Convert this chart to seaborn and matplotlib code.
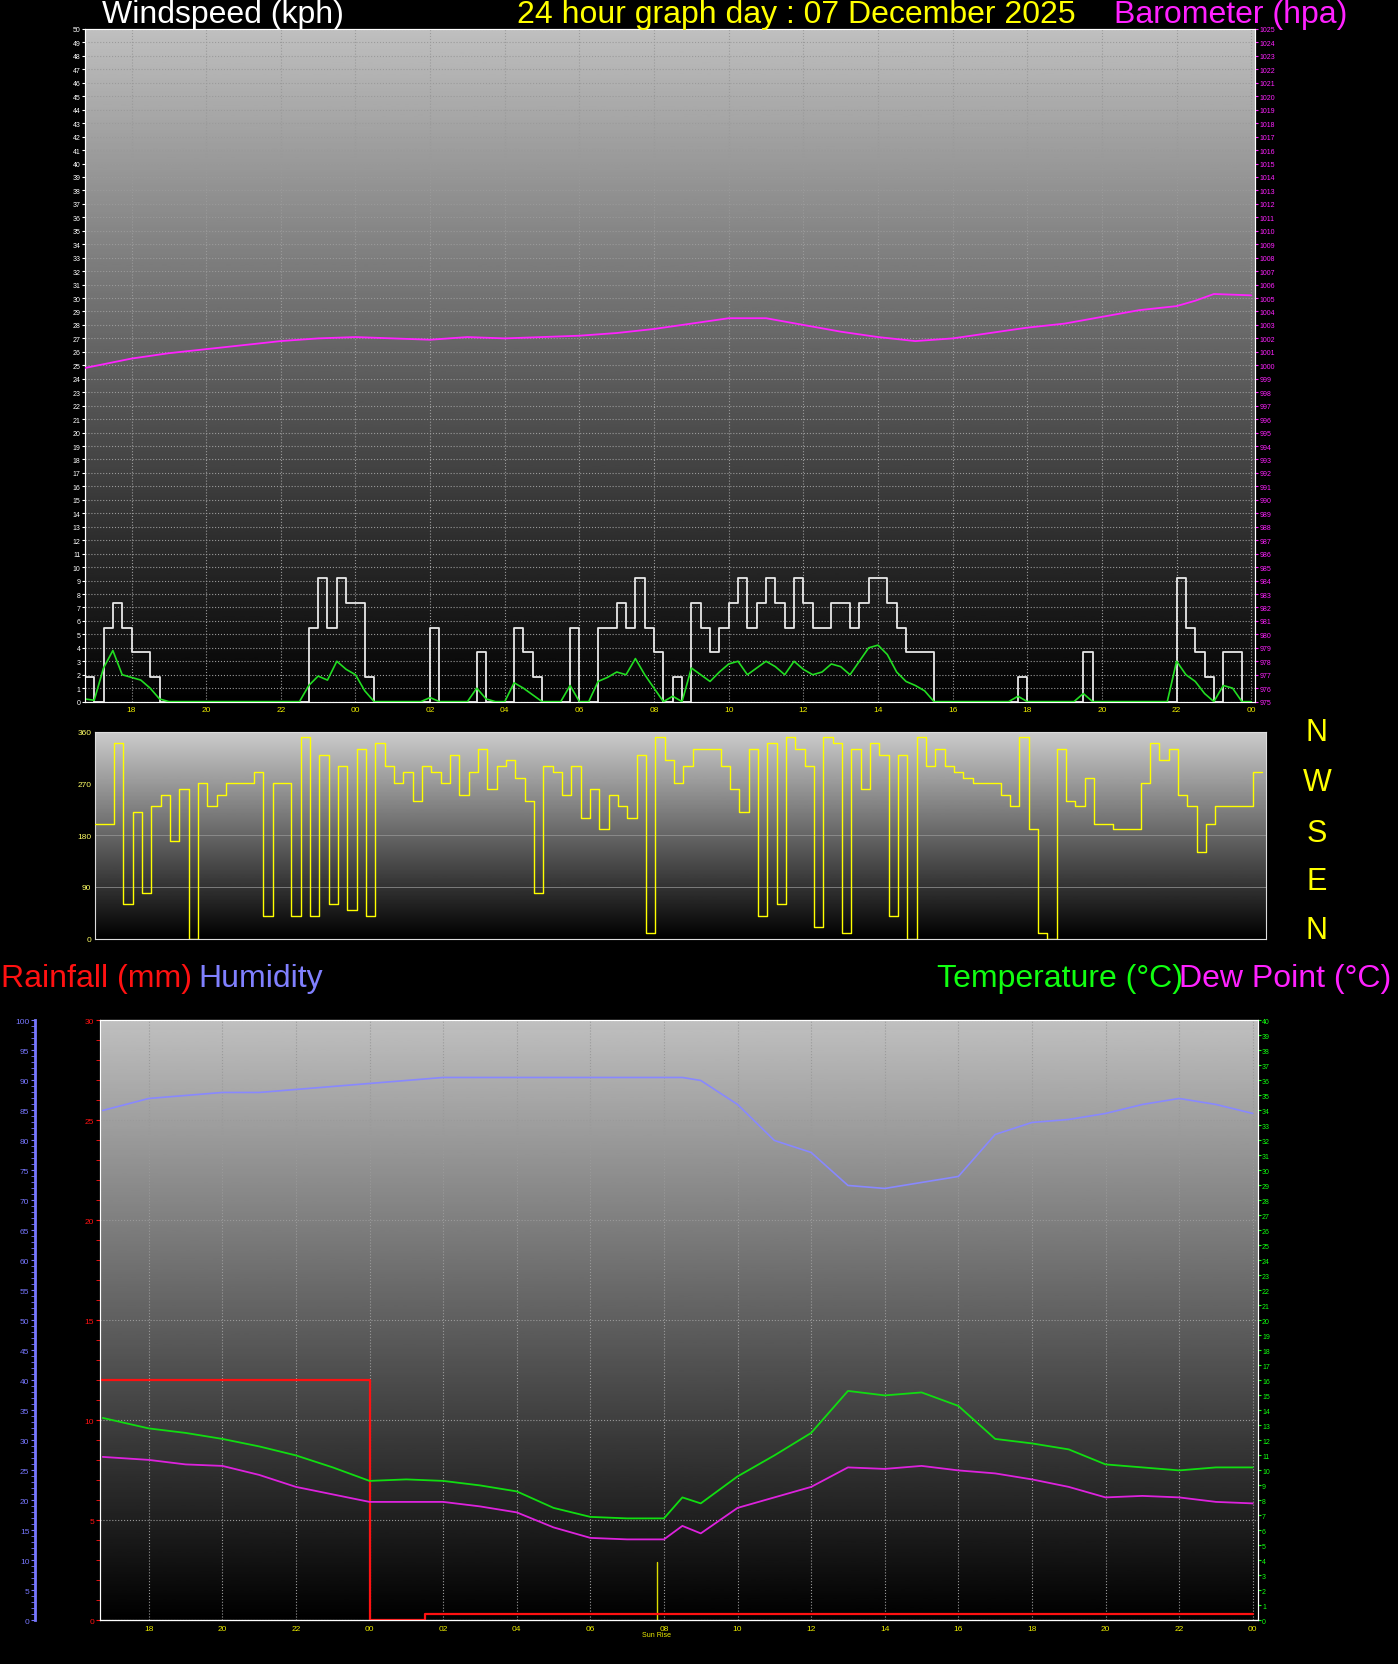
import numpy as np
import pandas as pd
import matplotlib
matplotlib.use('Agg')
import matplotlib.pyplot as plt
import seaborn as sns

sns.set_style('dark')
plt.rcParams['font.family'] = ['Liberation Sans', 'DejaVu Sans']

# time axis in hours (16.75 = 16:45 previous day, 48 = midnight 07 Dec)
hours = [16.75 + 0.25 * i for i in range(126)]

# wind speed (kph), 15 minute samples
gust = [1.8, 0, 5.5, 7.3, 5.5, 3.7, 3.7, 1.8, 0, 0,
        0, 0, 0, 0, 0, 0, 0, 0, 0, 0,
        0, 0, 0, 0, 5.5, 9.2, 5.5, 9.2, 7.3, 7.3,
        1.8, 0, 0, 0, 0, 0, 0, 5.5, 0, 0,
        0, 0, 3.7, 0, 0, 0, 5.5, 3.7, 1.8, 0,
        0, 0, 5.5, 0, 0, 5.5, 5.5, 7.3, 5.5, 9.2,
        5.5, 3.7, 0, 1.8, 0, 7.3, 5.5, 3.7, 5.5, 7.3,
        9.2, 5.5, 7.3, 9.2, 7.3, 5.5, 9.2, 7.3, 5.5, 5.5,
        7.3, 7.3, 5.5, 7.3, 9.2, 9.2, 7.3, 5.5, 3.7, 3.7,
        3.7, 0, 0, 0, 0, 0, 0, 0, 0, 0,
        1.8, 0, 0, 0, 0, 0, 0, 3.7, 0, 0,
        0, 0, 0, 0, 0, 0, 0, 9.2, 5.5, 3.7,
        1.8, 0, 3.7, 3.7, 0, 0]
avg = [0.2, 0.1, 2.5, 3.8, 2.0, 1.8, 1.6, 1.0, 0.2, 0,
       0, 0, 0, 0, 0, 0, 0, 0, 0, 0,
       0, 0, 0, 0, 1.2, 1.9, 1.6, 3.0, 2.4, 2.0,
       0.8, 0, 0, 0, 0, 0, 0, 0.3, 0, 0,
       0, 0, 1.0, 0.2, 0, 0, 1.4, 1.0, 0.5, 0,
       0, 0, 1.2, 0, 0, 1.5, 1.8, 2.2, 2.0, 3.2,
       2.0, 1.0, 0, 0.4, 0, 2.5, 2.0, 1.5, 2.2, 2.8,
       3.0, 2.0, 2.5, 3.0, 2.6, 2.0, 3.0, 2.4, 2.0, 2.2,
       2.8, 2.6, 2.0, 3.0, 4.0, 4.2, 3.5, 2.2, 1.5, 1.2,
       0.8, 0, 0, 0, 0, 0, 0, 0, 0, 0,
       0.4, 0, 0, 0, 0, 0, 0, 0.6, 0, 0,
       0, 0, 0, 0, 0, 0, 0, 3.0, 2.0, 1.5,
       0.6, 0, 1.2, 1.0, 0, 0]

# barometer (hpa), hourly
baro_hours = [16.75, 18, 19, 20, 21, 22, 23, 24, 25, 26, 27, 28, 29, 30, 31,
              32, 33, 34, 35, 36, 37, 38, 39, 40, 41, 42, 43, 44, 45, 46,
              46.5, 47, 48]
baro = [999.8, 1000.5, 1000.9, 1001.2, 1001.5, 1001.8, 1002.0, 1002.1, 1002.0,
        1001.9, 1002.1, 1002.0, 1002.1, 1002.2, 1002.4, 1002.7, 1003.1, 1003.5,
        1003.5, 1003.0, 1002.5, 1002.1, 1001.8, 1002.0, 1002.4, 1002.8, 1003.1,
        1003.6, 1004.1, 1004.4, 1004.8, 1005.3, 1005.2]

# wind direction (degrees), 15 minute samples
wdir = [200, 200, 340, 60, 220, 80, 230, 250, 170, 260,
        0, 270, 230, 250, 270, 270, 270, 290, 40, 270,
        270, 40, 350, 40, 320, 60, 300, 50, 330, 40,
        340, 300, 270, 290, 240, 300, 290, 270, 320, 250,
        290, 330, 260, 300, 310, 280, 240, 80, 300, 290,
        250, 300, 210, 260, 190, 250, 230, 210, 320, 10,
        350, 310, 270, 300, 330, 330, 330, 300, 260, 220,
        330, 40, 340, 60, 350, 330, 300, 20, 350, 340,
        10, 330, 260, 340, 320, 40, 320, 0, 350, 300,
        330, 300, 290, 280, 270, 270, 270, 250, 230, 350,
        190, 10, 0, 330, 240, 230, 280, 200, 200, 190,
        190, 190, 270, 340, 310, 330, 250, 230, 150, 200,
        230, 230, 230, 230, 290, 290]

# bottom panel, hourly
met_hours = [16.75, 18, 19, 20, 21, 22, 23, 24, 25, 26, 27, 28, 29, 30, 31, 32,
             32.5, 33, 34, 35, 36, 37, 38, 39, 40, 41, 42, 43, 44, 45, 46, 47, 48]
humidity = [85, 87, 87.5, 88, 88, 88.5, 89, 89.5, 90, 90.5, 90.5, 90.5, 90.5,
            90.5, 90.5, 90.5, 90.5, 90, 86, 80, 78, 72.5, 72, 73, 74, 81, 83,
            83.5, 84.5, 86, 87, 86, 84.5]
temp = [13.5, 12.8, 12.5, 12.1, 11.6, 11.0, 10.2, 9.3, 9.4, 9.3, 9.0, 8.6,
        7.5, 6.9, 6.8, 6.8, 8.2, 7.8, 9.6, 11.0, 12.5, 15.3, 15.0, 15.2, 14.3,
        12.1, 11.8, 11.4, 10.4, 10.2, 10.0, 10.2, 10.2]
dewpt = [10.9, 10.7, 10.4, 10.3, 9.7, 8.9, 8.4, 7.9, 7.9, 7.9, 7.6, 7.2,
         6.2, 5.5, 5.4, 5.4, 6.3, 5.8, 7.5, 8.2, 8.9, 10.2, 10.1, 10.3, 10.0,
         9.8, 9.4, 8.9, 8.2, 8.3, 8.2, 7.9, 7.8]
rain_hours = [16.67, 24.0, 24.0, 25.5, 25.5, 48.0]
rain = [12.0, 12.0, 0.0, 0.0, 0.3, 0.3]

tick_pos = list(range(18, 49, 2))
tick_lab = ['18', '20', '22', '00', '02', '04', '06', '08', '10', '12', '14',
            '16', '18', '20', '22', '00']

fig = plt.figure(figsize=(13.98, 16.65), dpi=100, facecolor='black')
grad = np.linspace(0, 1, 256).reshape(-1, 1)


def panel(rect, top_grey):
    ax = fig.add_axes(rect)
    ax.set_facecolor('black')
    ax.imshow(grad, extent=[0, 1, 0, 1], transform=ax.transAxes, aspect='auto',
              cmap='gray', vmin=0, vmax=1 / top_grey, origin='lower', zorder=0)
    for s in ax.spines.values():
        s.set_color('#dddddd')
    ax.grid(True, color='#9a9a9a', linestyle=':', linewidth=0.8, zorder=1)
    return ax


# ---- top: windspeed and barometer
ax1 = panel([0.0607, 0.578, 0.837, 0.404], 0.75)
df_w = pd.DataFrame({'h': hours, 'gust': gust, 'avg': avg})
sns.lineplot(data=df_w, x='h', y='gust', drawstyle='steps-post', color='#e8e8e8',
             linewidth=1.3, ax=ax1, zorder=3)
sns.lineplot(data=df_w, x='h', y='avg', color='#22dd22', linewidth=1.2, ax=ax1, zorder=4)
ax1.set_xlim(16.75, 48.1)
ax1.set_ylim(0, 50)
ax1.set_yticks(range(0, 51))
ax1.set_xticks(tick_pos)
ax1.set_xticklabels(tick_lab)
ax1.tick_params(axis='y', colors='white', labelsize=5, length=2, pad=1)
ax1.tick_params(axis='x', colors='#eeee00', labelsize=6, length=0)
ax1b = ax1.twinx()
sns.lineplot(x=baro_hours, y=baro, color='#ff22ff', linewidth=1.3, ax=ax1b, zorder=5)
ax1b.set_ylim(975, 1025)
ax1b.set_yticks(range(975, 1026))
ax1b.tick_params(axis='y', colors='#ff22ff', labelsize=5, length=2, pad=1)
ax1b.grid(False)

fig.text(0.073, 0.991, 'Windspeed (kph)', color='white', fontsize=23, va='center')
fig.text(0.37, 0.991, '24 hour graph day : 07 December 2025', color='#ffff00', fontsize=23, va='center')
fig.text(0.797, 0.991, 'Barometer (hpa)', color='#ff22ff', fontsize=23, va='center')

# ---- middle: wind direction
ax2 = panel([0.0683, 0.4356, 0.837, 0.1244], 0.8)
sns.lineplot(x=hours, y=wdir, drawstyle='steps-post', color='#ffff00', linewidth=1.0,
             ax=ax2, zorder=3)
ax2.set_xlim(16.75, 48.1)
ax2.set_ylim(0, 360)
ax2.set_yticks([0, 90, 180, 270, 360])
ax2.set_xticks(tick_pos)
ax2.set_xticklabels([])
ax2.tick_params(axis='y', colors='#ffff66', labelsize=6, length=2, pad=1)
ax2.tick_params(axis='x', length=0)
ax2.grid(True, axis='y', color='#9a9a9a', linestyle='-', linewidth=0.5)
ax2.grid(False, axis='x')
for lab, yy in zip(['N', 'W', 'S', 'E', 'N'], [0.560, 0.530, 0.499, 0.470, 0.441]):
    fig.text(0.942, yy, lab, color='#ffff00', fontsize=22, ha='center', va='center')

# ---- bottom: rain, humidity, temperature, dew point
fig.text(0.001, 0.412, 'Rainfall (mm)', color='#ff1111', fontsize=23, va='center')
fig.text(0.142, 0.412, 'Humidity', color='#8080ff', fontsize=23, va='center')
fig.text(0.67, 0.412, 'Temperature (°C)', color='#11ff11', fontsize=23, va='center')
fig.text(0.843, 0.412, 'Dew Point (°C)', color='#ff22ff', fontsize=23, va='center')

ax3 = panel([0.0714, 0.0262, 0.8284, 0.3603], 0.75)
sns.lineplot(x=rain_hours, y=rain, sort=False, estimator=None, color='#ff1111',
             linewidth=1.6, ax=ax3, zorder=5)
ax3.set_xlim(16.67, 48.14)
ax3.set_ylim(0, 30)
ax3.set_yticks(range(0, 31, 5))
ax3.set_yticks(np.arange(0, 30, 1), minor=True)
ax3.tick_params(axis='y', which='both', colors='#ff1111', labelsize=6, length=3, pad=1)
ax3.tick_params(axis='x', colors='#eeee00', labelsize=6, length=0)
ax3.set_xticks(tick_pos)
ax3.set_xticklabels(tick_lab)
ax3.plot([31.8, 31.8], [0, 2.9], color='#dddd00', linewidth=1, zorder=4)
ax3.text(31.8, -0.55, 'Sun Rise', color='#eeee00', fontsize=5, ha='center', va='top')

ax3t = ax3.twinx()
sns.lineplot(x=met_hours, y=temp, color='#11dd11', linewidth=1.3, ax=ax3t, zorder=4)
sns.lineplot(x=met_hours, y=dewpt, color='#dd22dd', linewidth=1.3, ax=ax3t, zorder=4)
ax3t.set_ylim(0, 40)
ax3t.set_yticks(range(0, 41))
ax3t.tick_params(axis='y', colors='#11ff11', labelsize=5, length=2, pad=1)
ax3t.grid(False)

ax3h = ax3.twinx()
sns.lineplot(x=met_hours, y=humidity, color='#8888ff', linewidth=1.2, ax=ax3h, zorder=4)
ax3h.set_ylim(0, 100)
ax3h.yaxis.tick_left()
ax3h.spines['left'].set_position(('axes', -0.056))
ax3h.spines['left'].set_color('#7777ff')
ax3h.spines['left'].set_linewidth(2)
ax3h.spines['right'].set_visible(False)
ax3h.set_yticks(range(0, 101, 5))
ax3h.set_yticks(range(0, 101, 1), minor=True)
ax3h.tick_params(axis='y', which='both', colors='#7777ff', labelsize=6, length=3, pad=1)
ax3h.grid(False)
for a in (ax1, ax1b, ax2, ax3, ax3t, ax3h):
    a.set_xlabel('')
    a.set_ylabel('')

fig.savefig('out.png', dpi=100, facecolor='black')
